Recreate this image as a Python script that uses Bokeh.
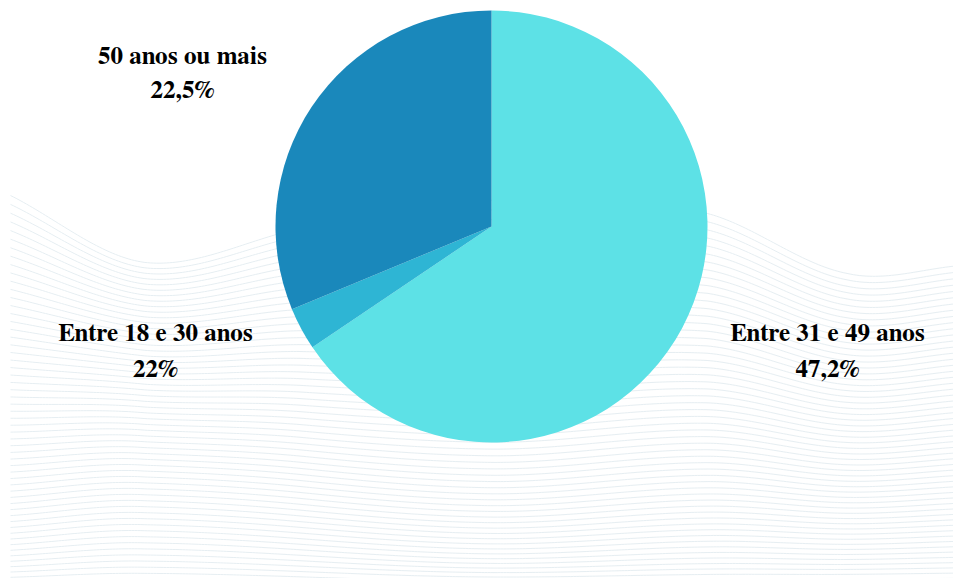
import numpy as np
from bokeh.plotting import figure
from bokeh.models import Range1d, ColumnDataSource, Label
from bokeh.embed import file_html
from bokeh.resources import INLINE

# ---- data ----
categories = ["Entre 31 e 49 anos", "Entre 18 e 30 anos", "50 anos ou mais"]
slice_values = [47.2, 2.3, 22.5]          # slice sizes as drawn
pct_labels = ["47,2%", "22%", "22,5%"]     # printed labels
colors = ["#5de1e6", "#2eb5d4", "#1a88bb"]

W, H = 953, 578
p = figure(width=W, height=H, output_backend="svg", toolbar_location=None,
           x_range=Range1d(0, W), y_range=Range1d(586 - H, 586), min_border=0)
p.axis.visible = False
p.grid.visible = False
p.outline_line_color = None
p.background_fill_color = "white"

def sy(y):  # screen y -> data y
    return 586 - np.asarray(y, dtype=float)

# ---- decorative wave background ----
def catmull(px, py, xs):
    px = np.asarray(px, float); py = np.asarray(py, float)
    PX = np.concatenate([[2 * px[0] - px[1]], px, [2 * px[-1] - px[-2]]])
    PY = np.concatenate([[2 * py[0] - py[1]], py, [2 * py[-1] - py[-2]]])
    out = np.empty_like(xs)
    for k, x in enumerate(xs):
        i = np.searchsorted(px, x, side="right") - 1
        i = min(max(i, 0), len(px) - 2)
        t = (x - px[i]) / (px[i + 1] - px[i])
        p0, p1, p2, p3 = PY[i], PY[i + 1], PY[i + 2], PY[i + 3]
        out[k] = 0.5 * ((2 * p1) + (-p0 + p2) * t + (2 * p0 - 5 * p1 + 4 * p2 - p3) * t * t
                        + (-p0 + 3 * p1 - 3 * p2 + p3) * t ** 3)
    return out

xs = np.linspace(10, 961, 300)
top = catmull([10, 145, 300, 480, 707, 847, 961], [195, 262, 228, 200, 213, 273, 265], xs)
mid = catmull([10, 145, 480, 707, 847, 961], [440, 410, 470, 440, 450, 440], xs)
bot = catmull([10, 145, 480, 961], [582, 579, 585, 583], xs)
n_lines = 56
wx, wy = [], []
for i in range(n_lines):
    t = i / (n_lines - 1)
    yy = (1 - t) ** 2 * top + 2 * t * (1 - t) * mid + t ** 2 * bot
    wx.append(xs.tolist())
    wy.append(sy(yy).tolist())
p.multi_line(wx, wy, line_color="#e6eef2", line_width=1.0)

# ---- pie ----
vals = np.array(slice_values)
total = vals.sum()
cum = np.concatenate([[0], np.cumsum(vals)])
start = np.pi / 2 - cum[:-1] / total * 2 * np.pi
end = np.pi / 2 - cum[1:] / total * 2 * np.pi
src = ColumnDataSource(dict(x=[491] * 3, y=sy([226] * 3).tolist(), start=start, end=end,
                            color=colors, cat=categories))
p.wedge(x="x", y="y", radius=216, radius_units="screen", start_angle="start",
        end_angle="end", direction="clock", fill_color="color", line_color=None, source=src)

# ---- labels ----
lab_x = [827, 155, 182]
lab_y1 = [333, 333, 56]
lab_y2 = [369, 369, 90]
font = "FreeSerif"
for cat, pct, lx, y1, y2 in zip(categories, pct_labels, lab_x, lab_y1, lab_y2):
    for txt, yy in ((cat, y1), (pct, y2)):
        p.add_layout(Label(x=lx, y=float(sy(yy)), text=txt, text_align="center",
                           text_baseline="middle", text_font=font, text_font_style="bold",
                           text_font_size="25px", text_color="#000000"))

open("out.html", "w").write(file_html(p, INLINE))
